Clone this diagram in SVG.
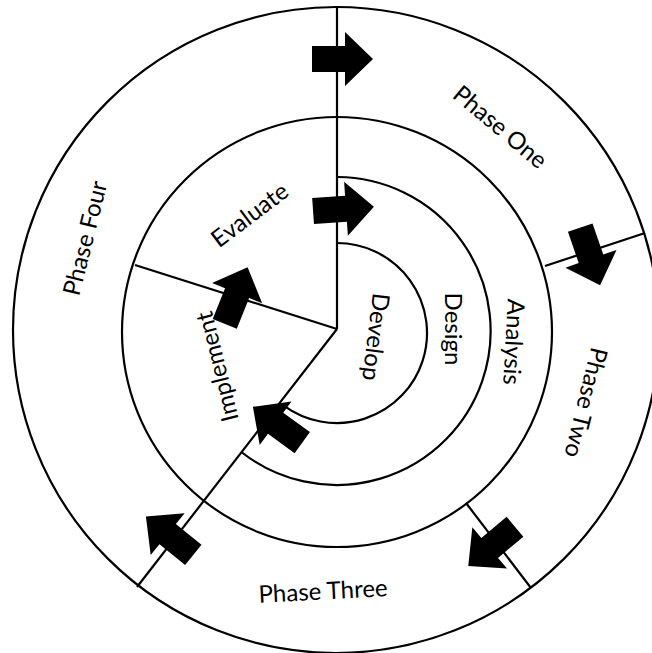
<svg xmlns="http://www.w3.org/2000/svg" width="652" height="653" viewBox="0 0 652 653">
<defs>
<style>
.ln{fill:none;stroke:#000;stroke-width:2.2}
.ar{fill:#000}
.t{font-family:Lato,"Open Sans","Liberation Sans",sans-serif;font-size:24px;fill:#000;text-anchor:middle;dominant-baseline:central}
</style>
<path id="arrow" d="M-30,-13H3V-27L31,0L3,27V13H-30Z"/>
</defs>
<rect width="652" height="653" fill="#fff"/>
<g id="rings">
<circle id="outer-ring" class="ln" cx="336" cy="330" r="323"/>
<circle id="middle-ring" class="ln" cx="337" cy="332" r="215"/>
<path id="analysis-arc" class="ln" d="M337.5,177 A154,154 0 1 1 242,452.5"/>
<path id="develop-arc" class="ln" d="M337,243 A90,90 0 1 1 284.1,405.8"/>
</g>
<g id="connectors">
<path class="ln" d="M337,7V329"/>
<path class="ln" d="M337,329L135,265"/>
<path class="ln" d="M337,329L137,587"/>
<path class="ln" d="M545,266L645,233"/>
<path class="ln" d="M466,503L531,588"/>
<use href="#arrow" class="ar" transform="translate(342,59)"/>
<use href="#arrow" class="ar" transform="translate(343,209) rotate(-4)"/>
<use href="#arrow" class="ar" transform="translate(590,256) rotate(71)"/>
<use href="#arrow" class="ar" transform="translate(492,546) rotate(140)"/>
<use href="#arrow" class="ar" transform="translate(170,536) rotate(-141)"/>
<use href="#arrow" class="ar" transform="translate(236,296) rotate(-68)"/>
<use href="#arrow" class="ar" transform="translate(278,425) rotate(-144)"/>
</g>
<g id="phase-one"><text class="t" transform="translate(501,126) rotate(40)">Phase One</text></g>
<g id="phase-two"><text class="t" transform="translate(587,403) rotate(104)">Phase Two</text></g>
<g id="phase-three"><text class="t" transform="translate(323,590) rotate(-3)">Phase Three</text></g>
<g id="phase-four"><text class="t" transform="translate(84,238) rotate(-76)">Phase Four</text></g>
<g id="evaluate"><text class="t" transform="translate(249,214) rotate(-37)">Evaluate</text></g>
<g id="implement"><text class="t" transform="translate(216,367) rotate(-104)">Implement</text></g>
<g id="analysis"><text class="t" transform="translate(515,342) rotate(93)">Analysis</text></g>
<g id="design"><text class="t" transform="translate(454,329) rotate(90)">Design</text></g>
<g id="develop"><text class="t" transform="translate(377,337) rotate(97)">Develop</text></g>
</svg>
